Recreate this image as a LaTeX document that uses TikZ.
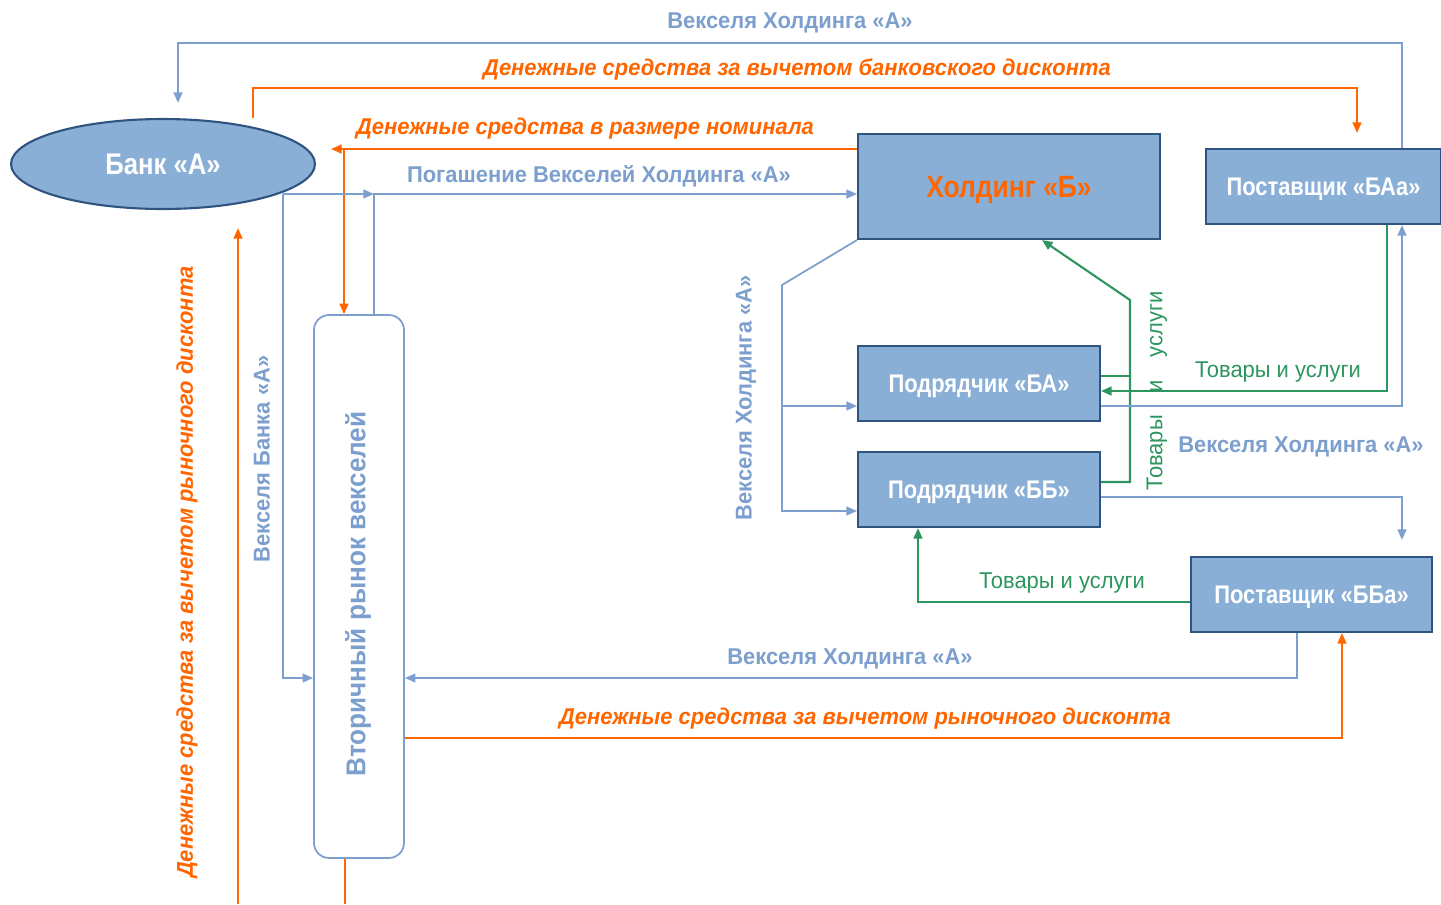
\documentclass[tikz,border=0pt]{standalone}
\usepackage{fontspec}
\setmainfont{Liberation Sans}[FakeStretch=0.96]
\newfontfamily\boxfont{Liberation Sans}[FakeStretch=0.86]
\usetikzlibrary{arrows.meta}
\usetikzlibrary{shapes.geometric}

\definecolor{billblue}{RGB}{124,159,206}
\definecolor{cashorange}{RGB}{255,102,0}
\definecolor{goodsgreen}{RGB}{44,150,94}
\definecolor{boxfill}{RGB}{138,175,215}
\definecolor{boxline}{RGB}{47,84,128}

\begin{document}
\begin{tikzpicture}[x=0.02cm,y=-0.02cm,
  tip/.style={-{Triangle[length=6pt,width=5pt]}},
  box/.style={draw=boxline,fill=boxfill,line width=1.2pt,inner sep=0pt,text=white,
    minimum height=1.5cm,text height=10.4pt,text depth=0pt,
    font=\boxfont\bfseries\fontsize{14.5}{17}\selectfont},
  bill/.style={draw=billblue,line width=1pt},
  cash/.style={draw=cashorange,line width=1.1pt},
  goods/.style={draw=goodsgreen,line width=1.2pt},
  billtext/.style={text=billblue,font=\bfseries\fontsize{13}{15}\selectfont},
  cashtext/.style={text=cashorange,font=\bfseries\itshape\fontsize{13}{15}\selectfont},
  goodstext/.style={text=goodsgreen,font=\fontsize{13}{15}\selectfont}]
\useasboundingbox (0,0) rectangle (1441,904);

% participants
\node (bank) [ellipse,draw=boxline,fill=boxfill,line width=1.2pt,inner sep=0pt,
  minimum width=6.08cm,minimum height=1.8cm,text=white,text height=12.2pt,text depth=0pt,
  font=\boxfont\bfseries\fontsize{17}{20}\selectfont] at (163,164) {Банк «А»};
\node (market) [draw=billblue,fill=white,line width=1pt,rounded corners=0.3cm,
  minimum width=1.8cm,minimum height=10.86cm] at (359,586.5) {};
\node (holding) [box,minimum width=6.04cm,minimum height=2.1cm,text=cashorange,text height=12.5pt,
  font=\boxfont\bfseries\fontsize{17.5}{20}\selectfont] at (1009,186.5) {Холдинг «Б»};
\node (supBAa) [box,minimum width=4.7cm] at (1323.5,186.5) {Поставщик «БАа»};
\node (podBA) [box,minimum width=4.84cm] at (979,383.5) {Подрядчик «БА»};
\node (podBB) [box,minimum width=4.84cm] at (979,489.5) {Подрядчик «ББ»};
\node (supBBa) [box,minimum width=4.82cm] at (1311.5,594.5) {Поставщик «ББа»};

\coordinate (bankout) at (283,194);
\coordinate (repay) at (374,194);
\coordinate (nominal) at (344,149);

% bank and secondary market
\draw [bill,tip,shorten >=0.3cm] (supBAa.north -| 1402,0) |- (178,43) -- (bank.north -| 178,0);
\draw [cash,tip,shorten >=0.3cm] (bank.north -| 253,0) |- (1357,88) -- (supBAa.north -| 1357,0);
\draw [cash,tip,shorten >=0.3cm] (holding.west |- nominal) -- (bank.east |- nominal);
\draw [cash,tip] (nominal) -- (market.north -| nominal);
\draw [bill,tip] (bankout) -- (repay);
\draw [bill,tip] (market.north -| repay) |- (holding.west |- repay);
\draw [bill,tip] (bankout) |- (market.west |- 0,678);
\draw [cash,tip,shorten >=0.36cm] (238,904) -- (bank.south -| 238,0);
\draw [cash] (market.south -| 345,0) -- (345,904);

% holding and contractors
\draw [bill,tip] (holding.south west) -- (782,285) |- (podBB.west |- 0,511);
\draw [bill,tip] (782,406) -- (podBA.west |- 0,406);
\draw [goods,tip] (podBB.east |- 0,482) -- (1130,482) -- (1130,300) -- (holding.south -| 1042,0);
\draw [goods] (podBA.east |- 0,376) -- (1130,376);

% suppliers
\draw [goods,tip] (supBAa.south -| 1387,0) |- (podBA.east |- 0,391);
\draw [bill,tip] (podBA.east |- 0,406) -| (supBAa.south -| 1402,0);
\draw [bill,tip,shorten >=0.32cm] (podBB.east |- 0,497) -| (supBBa.north -| 1402,0);
\draw [goods,tip] (supBBa.west |- 0,602) -| (podBB.south -| 918,0);
\draw [bill,tip] (supBBa.south -| 1297,0) |- (market.east |- 0,678);
\draw [cash,tip] (market.east |- 0,738) -| (supBBa.south -| 1342,0);

% labels
\node (lblTop) [billtext] at (790,23) {Векселя Холдинга «А»};
\node (lblBankDisc) [cashtext] at (797,69) {Денежные средства за вычетом банковского дисконта};
\node (lblNominal) [cashtext] at (585,129) {Денежные средства в размере номинала};
\node (lblRepay) [billtext] at (599,176) {Погашение Векселей Холдинга «А»};
\node (lblMarketCash) [cashtext,rotate=90] at (187,572) {Денежные средства за вычетом рыночного дисконта};
\node (lblBankBills) [billtext,rotate=90] at (262,459) {Векселя Банка «А»};
\node (lblMarket) [billtext,rotate=90,font=\bfseries\fontsize{15.5}{18}\selectfont] at (358,594) {Вторичный рынок векселей};
\node (lblHoldBills) [billtext,rotate=90] at (746,398) {Векселя Холдинга «А»};
\node (lblGoodsV) [goodstext,rotate=90] at (1157,391) {Товары\hspace{13pt}и\hspace{13pt}услуги};
\node (lblGoodsA) [goodstext] at (1278,372) {Товары и услуги};
\node (lblBillsA) [billtext] at (1301,447) {Векселя Холдинга «А»};
\node (lblGoodsB) [goodstext] at (1062,583) {Товары и услуги};
\node (lblBillsB) [billtext] at (850,659) {Векселя Холдинга «А»};
\node (lblCashB) [cashtext] at (865,719) {Денежные средства за вычетом рыночного дисконта};
\end{tikzpicture}
\end{document}
